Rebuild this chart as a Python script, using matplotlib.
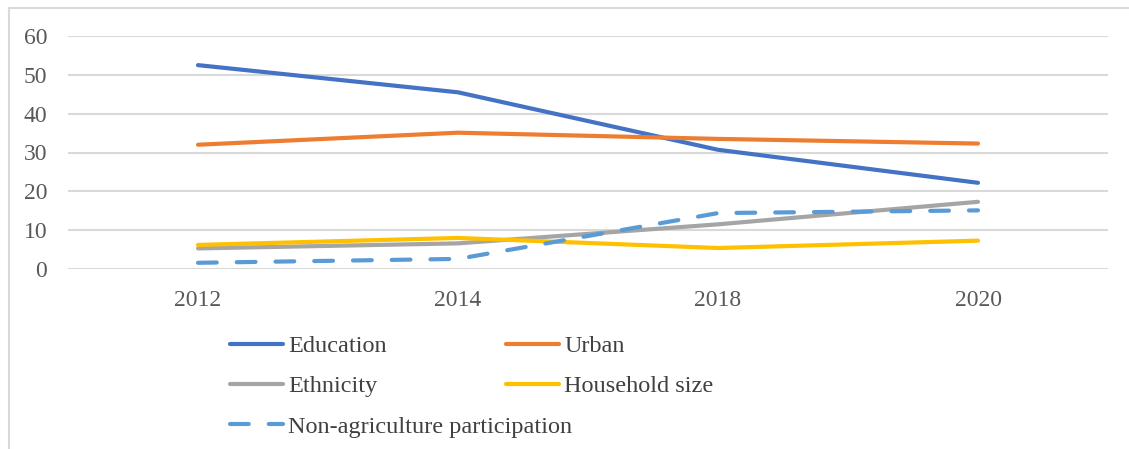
import matplotlib
matplotlib.use('agg')
import matplotlib.pyplot as plt
from matplotlib.lines import Line2D

years = ['2012', '2014', '2018', '2020']
education = [52.5, 45.5, 30.7, 22.2]
urban = [32.0, 35.1, 33.5, 32.3]
ethnicity = [5.3, 6.6, 11.5, 17.3]
household = [6.2, 8.0, 5.4, 7.3]
nonagri = [1.6, 2.6, 14.4, 15.1]

plt.rcParams['font.family'] = ['Liberation Serif', 'DejaVu Serif']

fig = plt.figure(figsize=(11.29, 4.49), dpi=100)
ax = fig.add_axes([68/1129, (449-269)/449, (1108-68)/1129, (269-36)/449])

x = range(len(years))
lw = 3
l_edu, = ax.plot(x, education, color='#4472C4', lw=lw, solid_capstyle='round', label='Education')
l_urb, = ax.plot(x, urban, color='#ED7D31', lw=lw, solid_capstyle='round', label='Urban')
l_eth, = ax.plot(x, ethnicity, color='#A5A5A5', lw=lw, solid_capstyle='round', label='Ethnicity')
l_hh, = ax.plot(x, household, color='#FFC000', lw=lw, solid_capstyle='round', label='Household size')
l_na, = ax.plot(x, nonagri, color='#5B9BD5', lw=lw, dashes=(4.5, 4.8),
                dash_capstyle='round', label='Non-agriculture participation')

ax.set_xlim(-0.5, 3.5)
ax.set_ylim(0, 60)
ax.set_yticks(range(0, 61, 10))
ax.set_xticks(list(x))
ax.set_xticklabels(years)
ax.grid(axis='y', color='#D9D9D9', lw=1.5)
ax.set_axisbelow(True)
for s in ax.spines.values():
    s.set_visible(False)
ax.tick_params(length=0, labelsize=17, colors='#595959')
ax.tick_params(axis='x', pad=15)
ax.tick_params(axis='y', pad=15)

leg_kw = dict(frameon=False, fontsize=17.5, handlelength=2.2, handletextpad=0.2,
              labelspacing=0.75, borderaxespad=0, borderpad=0, labelcolor='#404040')
fig.legend(handles=[l_edu, l_eth, l_na], loc='upper left',
           bbox_to_anchor=(230/1129, 1 - 335/449), **leg_kw)
fig.legend(handles=[l_urb, l_hh], loc='upper left',
           bbox_to_anchor=(506/1129, 1 - 335/449), **leg_kw)

# chart frame (only top and left edges show in the crop)
fig.add_artist(Line2D([9/1129, 9/1129], [0, 1 - 8/449], color='#D9D9D9', lw=1.5,
                      transform=fig.transFigure))
fig.add_artist(Line2D([9/1129, 1], [1 - 8/449, 1 - 8/449], color='#D9D9D9', lw=1.5,
                      transform=fig.transFigure))

fig.savefig('out.png', dpi=100)
